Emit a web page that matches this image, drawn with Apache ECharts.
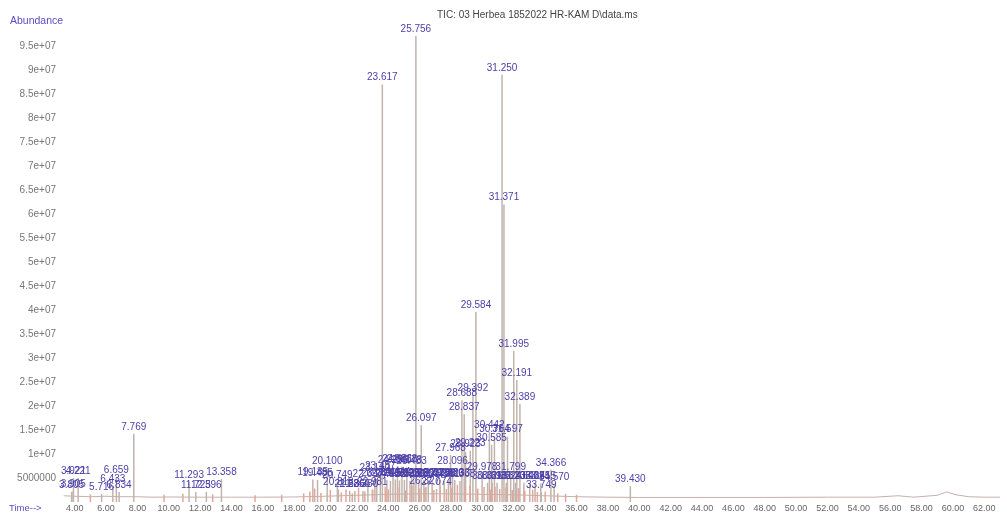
<!DOCTYPE html>
<html>
<head>
<meta charset="utf-8">
<script src="https://cdn.jsdelivr.net/npm/echarts@6/dist/echarts.min.js"></script>
<style>
  html, body { margin: 0; padding: 0; background: #ffffff; }
  #chart { width: 1007px; height: 516px; }
</style>
</head>
<body>
<div id="chart"></div>
<script>
// Integrated peaks: retention time (min) and apex abundance
const peakTimes = [
  3.805, 3.905, 3.921, 4.221, 5.716, 6.433, 6.659, 6.834, 7.769,
  11.293, 11.725, 12.396, 13.358,
  19.185, 19.485, 20.100, 20.749, 20.813, 21.536, 21.866, 22.380, 22.697, 22.981,
  23.142, 23.262, 23.487, 23.617, 23.905, 24.132, 24.296, 24.444, 24.581, 24.712,
  24.868, 25.025, 25.178, 25.380, 25.483, 25.628, 25.756, 25.930, 26.097, 26.265,
  26.327, 26.544, 26.792, 27.074, 27.288, 27.561, 27.830, 27.968, 28.096, 28.233,
  28.568, 28.688, 28.837, 28.923, 29.223, 29.392, 29.584, 29.978, 30.326, 30.442,
  30.585, 30.616, 30.764, 30.931, 31.250, 31.371, 31.524, 31.597, 31.799, 31.995,
  32.106, 32.191, 32.389, 32.640, 33.014, 33.355, 33.715, 33.749, 34.366, 34.570,
  39.430
];
const peakHeights = [
  2.1e6, 2.2e6, 5.0e6, 5.0e6, 1.7e6, 3.3e6, 5.2e6, 2.1e6, 1.42e7,
  4.2e6, 2.1e6, 2.1e6, 4.8e6,
  4.7e6, 4.6e6, 7.0e6, 4.1e6, 2.6e6, 2.3e6, 2.3e6, 2.3e6, 4.4e6, 2.6e6,
  5.6e6, 4.5e6, 6.0e6, 8.7e7, 4.6e6, 4.4e6, 7.3e6, 4.7e6, 7.5e6, 4.5e6,
  7.4e6, 4.6e6, 7.2e6, 4.4e6, 7.0e6, 4.5e6, 9.71e7, 4.3e6, 1.6e7, 4.6e6,
  2.9e6, 4.4e6, 4.5e6, 2.7e6, 4.6e6, 4.4e6, 4.5e6, 9.8e6, 7.0e6, 4.6e6,
  4.4e6, 2.12e7, 1.83e7, 1.05e7, 1.07e7, 2.23e7, 3.96e7, 5.8e6, 4.0e6, 1.46e7,
  1.19e7, 4.0e6, 1.36e7, 4.0e6, 8.9e7, 6.2e7, 4.0e6, 1.36e7, 5.8e6, 3.15e7,
  4.0e6, 2.54e7, 2.04e7, 4.0e6, 4.0e6, 3.9e6, 3.9e6, 2.1e6, 6.7e6, 3.8e6,
  3.3e6
];

// Small unlabelled peaks in the trace
const minorTimes = [
  5.0, 9.7, 10.9, 12.8, 15.5, 17.2, 18.6, 19.0, 19.3, 19.7, 20.3, 21.0, 21.3, 21.7,
  22.1, 22.5, 23.0, 23.8, 24.0, 24.6, 25.1, 25.5, 26.0, 26.4, 26.9, 27.3, 27.7,
  28.0, 28.4, 28.9, 29.2, 29.7, 30.1, 30.5, 30.8, 31.1, 31.5, 31.9, 32.3, 32.7,
  33.2, 33.5, 34.0, 34.8, 35.3, 36.0
];
const minorHeights = [
  1.6e6, 1.5e6, 1.7e6, 1.6e6, 1.4e6, 1.5e6, 1.8e6, 2.2e6, 2.8e6, 1.9e6, 2.5e6, 2.0e6, 2.6e6, 1.8e6,
  3.0e6, 2.2e6, 2.5e6, 3.2e6, 2.6e6, 3.0e6, 2.4e6, 3.4e6, 2.8e6, 3.1e6, 2.5e6, 3.3e6, 2.7e6,
  3.0e6, 3.6e6, 2.9e6, 3.4e6, 2.8e6, 3.1e6, 2.6e6, 3.2e6, 2.7e6, 3.0e6, 2.5e6, 2.9e6, 2.4e6,
  2.6e6, 2.1e6, 2.2e6, 1.8e6, 1.7e6, 1.5e6
];

// Baseline of the total ion current
const baselineTimes = [
  3.3, 4, 5, 6, 7, 8, 9, 10, 12, 14, 16, 18, 20, 22, 24, 26, 28, 30, 32, 34, 36,
  38, 40, 44, 48, 52, 55, 56.5, 57.5, 59, 59.6, 60.2, 61, 62, 63
];
const baselineValues = [
  1.3e6, 1.2e6, 1.1e6, 1.2e6, 1.1e6, 1.1e6, 1.0e6, 1.05e6, 1.0e6, 1.0e6, 1.0e6, 1.05e6,
  1.2e6, 1.4e6, 1.6e6, 1.7e6, 1.7e6, 1.6e6, 1.5e6, 1.3e6, 1.1e6,
  1.0e6, 0.95e6, 0.95e6, 0.95e6, 1.0e6, 1.0e6, 1.3e6, 1.0e6, 1.4e6, 2.1e6, 1.5e6, 1.1e6, 1.0e6, 1.0e6
];

const xTicks = [4, 6, 8, 10, 12, 14, 16, 18, 20, 22, 24, 26, 28, 30, 32, 34, 36, 38, 40,
  42, 44, 46, 48, 50, 52, 54, 56, 58, 60, 62];

const titleText = 'TIC: 03 Herbea 1852022 HR-KAM D\\data.ms';

const peakColor = '#c2b3ac';
const minorColor = '#e6a597';
const labelColor = '#4a3fa8';
const axisNameColor = '#5b4fc0';
const fontFamily = 'Liberation Sans, Arial, sans-serif';

const barData = [];
peakTimes.forEach((t, i) => {
  barData.push({ value: [t, peakHeights[i]], itemStyle: { color: peakColor } });
});
minorTimes.forEach((t, i) => {
  barData.push({ value: [t, minorHeights[i]], itemStyle: { color: minorColor }, label: { show: false } });
});
const baselineData = baselineTimes.map((t, i) => [t, baselineValues[i]]);

function yLabel(v) {
  if (v === 0 || v >= 1e8) return '';
  if (v === 5e6) return '5000000';
  return (Math.round(v / 1e6) / 10) + 'e+07';
}

const chart = echarts.init(document.getElementById('chart'), null, { renderer: 'canvas' });
chart.setOption({
  backgroundColor: '#ffffff',
  animation: false,
  textStyle: { fontFamily: fontFamily },
  title: [
    { text: titleText, left: 432, top: 5,
      textStyle: { fontSize: 10, fontWeight: 'normal', color: '#444', fontFamily: fontFamily } },
    { text: 'Abundance', left: 5, top: 11,
      textStyle: { fontSize: 10.5, fontWeight: 'normal', color: axisNameColor, fontFamily: fontFamily } },
    { text: 'Time-->', left: 4, top: 498,
      textStyle: { fontSize: 9.5, fontWeight: 'normal', color: axisNameColor, fontFamily: fontFamily } }
  ],
  grid: { left: 59, right: 7, top: 22, bottom: 14 },
  xAxis: {
    type: 'value', min: 3, max: 63,
    axisLine: { show: false }, axisTick: { show: false }, splitLine: { show: false },
    axisLabel: {
      customValues: xTicks,
      formatter: v => v.toFixed(2),
      color: '#666', fontSize: 9, margin: 2, fontFamily: fontFamily
    }
  },
  yAxis: {
    type: 'value', min: 0, max: 1e8, interval: 5e6,
    axisLine: { show: false }, axisTick: { show: false }, splitLine: { show: false },
    axisLabel: { formatter: yLabel, color: '#777', fontSize: 10, margin: 3, fontFamily: fontFamily }
  },
  series: [
    {
      type: 'line', data: baselineData, symbol: 'none', z: 1,
      lineStyle: { color: '#c2b2ab', width: 1 }
    },
    {
      type: 'bar', data: barData, barWidth: 1.5, z: 2,
      label: {
        show: true, position: 'top', distance: 2,
        formatter: p => p.value[0].toFixed(3),
        color: labelColor, fontSize: 10, fontFamily: fontFamily
      }
    }
  ]
});
</script>
</body>
</html>
